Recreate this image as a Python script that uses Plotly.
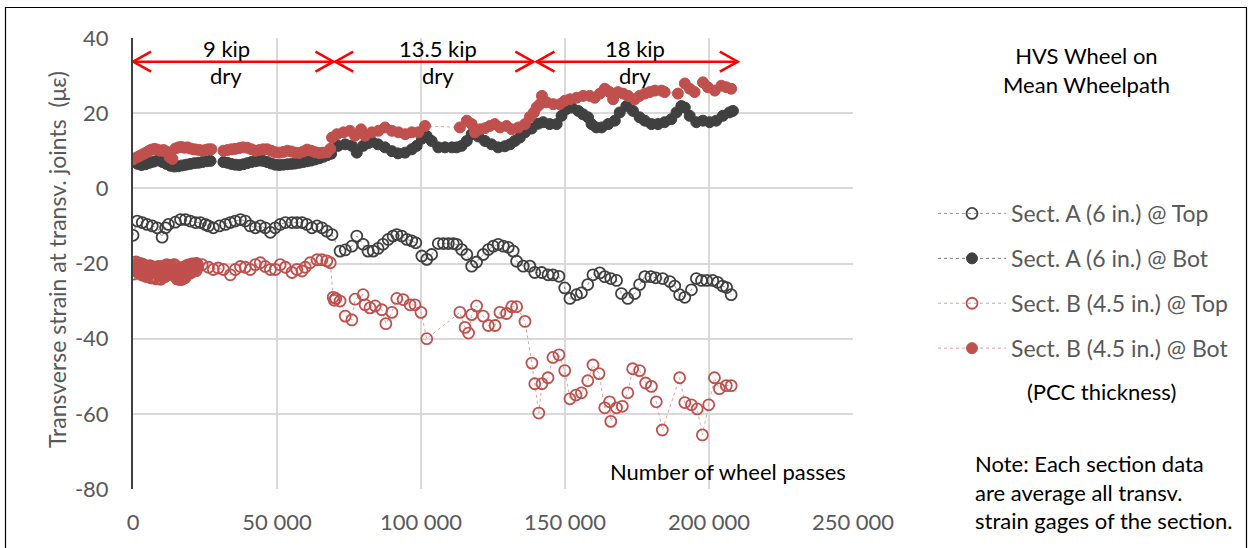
import plotly.graph_objects as go

# ---------------- data (x in thousands of wheel passes) ----------------
a_top_kx = [0, 1.5, 3.2, 4.9, 6.7, 8.4, 10.1, 11.3, 12.3, 14.7, 16.5, 18.2, 19.9, 21.7, 23.4, 25.1, 26.2, 27.9, 30.0,
            32.1, 33.8, 35.5, 37.3, 39.0, 40.7, 42.5, 44.2, 45.9, 47.7, 49.4, 51.1, 52.9, 55.2, 56.9, 58.7, 60.4, 62.1,
            63.9, 65.6, 67.3, 69.1,
            71.9, 73.7, 76.0, 77.7, 79.9, 81.6, 83.4, 85.1, 86.8, 88.6, 90.3, 91.6, 93.3, 95.1, 96.8, 98.2, 100.3,
            102.0, 103.7, 106.0, 107.8, 109.5, 111.2, 112.4, 114.1, 115.9, 117.6, 119.3, 121.6, 123.4, 125.1, 126.8,
            128.6, 130.3, 132.0, 133.2, 135.5, 137.8, 139.5, 141.9,
            144.1, 145.8, 147.9, 149.9, 151.7, 154.0, 155.7, 157.9, 159.7, 162.1, 163.8, 165.9, 167.9, 169.6, 171.8,
            174.2, 175.9, 177.7, 179.8, 181.5, 183.9, 186.4, 188.1, 189.8, 191.6, 193.9, 195.6, 197.4, 199.2, 201.3,
            203.0, 204.7, 206.1, 207.7]
a_top_val = [-12.5, -8.7, -9.1, -9.6, -10.0, -10.5, -13.0, -10.5, -9.6, -9.0, -8.3, -8.3, -8.7, -9.1, -9.1, -9.6, -10.0, -10.5, -10.0,
             -9.6, -9.1, -8.7, -8.3, -8.7, -10.0, -10.5, -10.0, -10.5, -11.7, -10.5, -9.6, -9.1, -9.1, -9.1, -9.1, -9.6, -10.5,
             -10.0, -10.5, -11.4, -12.3,
             -16.7, -16.4, -15.4, -12.7, -14.9, -16.7, -16.7, -16.0, -14.9, -13.6, -12.7, -12.3, -12.7, -13.6, -14.0, -14.5, -18.0,
             -18.9, -17.6, -14.7, -14.7, -14.7, -14.7, -14.9, -16.3, -17.6, -20.7, -19.6, -17.6, -16.3, -15.4, -14.9,
             -15.4, -15.7, -16.7, -19.4, -20.7, -20.7, -22.4, -22.4,
             -23.0, -23.0, -23.4, -26.5, -29.3, -28.3, -27.8, -25.6, -23.0, -22.5, -23.5, -24.0, -24.5, -28.0, -29.3,
             -28.0, -25.6, -23.5, -23.5, -23.8, -24.0, -24.8, -26.0, -28.3, -29.0, -27.0, -24.0, -24.5, -24.5, -24.5,
             -25.0, -26.0, -26.4, -28.3]

a_bot_kx = [0, 1.6, 2.9, 4.3, 5.7, 7.1, 8.5, 10.2, 11.6, 13.0, 14.4, 15.8, 17.2, 18.5, 19.9, 21.3, 22.7, 24.1, 25.5, 26.9,
            31.4, 32.8, 34.1, 35.5, 36.9, 38.3, 39.7, 41.1, 42.5, 43.9, 45.2, 46.6, 48.0, 49.4, 50.8, 52.2, 53.6, 55.0,
            56.3, 57.7, 59.1, 60.5, 61.9, 63.3, 64.7, 66.1, 67.4, 68.8,
            71.2, 73.7, 76.0, 77.7, 79.9, 81.6, 82.9, 85.1, 87.5, 89.9, 92.0, 94.5, 96.8, 98.5, 100.3, 102.0, 103.7,
            106.0, 108.3, 110.7, 112.4, 114.1, 115.9, 117.6, 119.9, 122.2, 124.5, 126.8, 129.1, 130.9, 132.6, 134.3,
            136.1, 138.4, 140.7, 142.4,
            144.7, 147.1, 148.8, 150.5, 152.3, 154.6, 156.3, 158.0, 159.2, 160.9, 162.7, 165.0, 167.3, 169.0, 171.3,
            173.6, 175.9, 177.7, 180.0, 182.3, 184.6, 186.9, 188.7, 190.4, 191.6, 193.3, 195.6, 197.9, 200.2, 202.5,
            204.8, 207.1, 208.3]
a_bot_val = [7.2, 6.5, 6.2, 6.4, 6.8, 7.1, 7.4, 7.0, 6.5, 6.0, 5.8, 5.9, 6.1, 6.3, 6.5, 6.7, 6.8, 7.0, 7.2, 7.3,
             7.0, 6.8, 6.5, 6.3, 6.2, 6.4, 6.7, 7.0, 7.2, 7.4, 7.3, 7.0, 6.6, 6.3, 6.2, 6.3, 6.4, 6.5,
             6.6, 6.8, 7.0, 7.2, 7.4, 7.7, 8.0, 8.4, 8.8, 9.2,
             11.3, 11.7, 11.3, 9.5, 11.3, 12.0, 12.4, 11.7, 10.9, 9.9, 9.3, 9.5, 10.4, 11.3, 13.2, 13.9, 12.6,
             10.9, 10.9, 10.9, 10.9, 11.3, 12.6, 14.4, 13.8, 12.6, 11.7, 10.9, 11.2, 11.7, 12.6, 13.5,
             14.9, 15.9, 17.2, 17.6,
             17.1, 17.1, 19.3, 21.1, 21.5, 20.6, 19.7, 18.9, 17.1, 16.2, 16.2, 17.1, 18.0, 20.2, 21.9,
             20.6, 18.9, 18.0, 17.1, 17.1, 17.6, 18.4, 20.2, 21.9, 21.5, 19.3, 17.6, 18.0, 17.6, 18.0,
             19.3, 20.2, 20.6]

b_top_kx = [0, 0.18, 0.35, 0.53, 0.7, 0.88, 1.05, 1.23, 1.4, 1.58, 1.75, 1.93, 2.1, 2.28, 2.45, 2.63, 2.8, 2.98,
            3.15, 3.33, 3.5, 3.68, 3.85, 4.03, 4.2, 4.38, 4.55, 4.73, 4.9, 5.08, 5.25, 5.43, 5.6, 5.78, 5.95, 6.13,
            6.3, 6.48, 6.65, 6.83, 7.0, 7.18, 7.35, 7.53, 7.7, 7.88, 8.05, 8.23, 8.4, 8.58, 8.75, 8.93, 9.1, 9.28,
            9.45, 9.63, 9.8, 9.98, 10.15, 10.33, 10.5, 10.68, 10.85, 11.03, 11.2, 11.38, 11.55, 11.73, 11.9, 12.08,
            12.25, 12.43, 12.6, 12.78, 12.95, 13.13, 13.3, 13.48, 13.65, 13.83, 14.0,
            14.4, 14.58, 14.75, 14.93, 15.1, 15.28, 15.45, 15.63, 15.8, 15.98, 16.15, 16.33, 16.5, 16.68, 16.85,
            17.03, 17.2, 17.38, 17.55, 17.73, 17.9, 18.08, 18.25, 18.43, 18.6, 18.78, 18.95, 19.13, 19.3, 19.48,
            19.65, 19.83, 20.0, 20.18, 20.35, 20.53, 20.7, 20.88, 21.05, 21.23, 21.4, 21.58, 21.75, 21.93, 22.1,
            22.28, 22.45,
            24.0, 26.2, 27.9, 29.6, 31.4, 33.8, 35.5, 37.3, 39.0, 40.7, 42.5, 44.2, 45.9, 47.7, 49.4, 51.1, 52.9,
            55.2, 56.9, 58.7, 59.8, 61.5, 63.9, 65.6, 67.3, 68.5,
            69.5, 69.9, 70.4, 71.9, 73.7, 76.0, 77.1, 79.9, 80.6, 82.3, 84.1, 86.4, 87.8, 89.9, 91.6, 93.8, 96.2,
            97.9, 100.0, 102.0, 113.5, 115.3, 116.5, 117.6, 119.3, 121.6, 123.4, 125.7, 127.4, 129.7, 131.5, 133.2, 136.1,
            138.5, 139.5, 140.9, 142.0, 144.1, 145.8, 147.9, 149.9, 151.7, 153.8, 155.7, 157.9, 159.7, 161.8, 163.8,
            165.5, 165.9, 167.9, 169.9, 171.8, 173.5, 175.9, 178.0, 180.0, 181.7, 183.8, 189.8, 191.6, 193.9, 195.9,
            197.7, 199.9, 201.9, 203.6, 206.0, 207.7]
b_top_val = [-19.8, -21.4, -22.8, -21.9, -20.3, -21.7, -19.6, -20.6, -21.2, -22.3,
             -20.5, -21.6, -19.9, -20.4, -21.6, -22.8, -20.8, -21.9, -20.1, -23.1,
             -22.0, -20.5, -21.3, -22.7, -20.6, -23.4, -22.4, -20.9, -21.7, -23.5,
             -20.9, -22.1, -22.9, -20.6, -21.8, -23.8, -20.7, -22.4, -23.3, -21.0,
             -22.1, -23.9, -21.2, -22.0, -23.6, -21.1, -22.6, -24.1, -21.5, -23.0,
             -20.8, -21.5, -22.7, -20.9, -23.9, -24.2, -22.9, -23.4, -21.6, -20.8,
             -23.2, -21.7, -22.0, -23.5, -21.1, -22.6, -20.6, -20.3, -21.9, -23.0,
             -22.4, -20.8, -21.3, -22.9, -20.5, -21.9, -21.7, -22.5, -20.9, -21.6, -20.4,
             -20.3, -22.0, -21.4, -20.7, -22.6, -24.1, -23.4, -22.1, -23.9, -22.4,
             -23.6, -24.3, -22.9, -21.8, -23.7, -24.2, -22.6, -23.9, -21.8, -20.9,
             -22.9, -23.8, -21.3, -22.5, -20.6, -22.9, -21.9, -20.4, -22.4, -21.3,
             -21.0, -22.6, -20.4, -22.0, -21.5, -20.1, -20.8, -22.1, -20.2, -21.6,
             -21.3, -20.1, -20.6, -21.9, -20.0, -21.2, -20.4,
             -20.3, -21.0, -21.6, -21.2, -21.6, -23.0, -21.6, -20.8, -21.0, -21.6, -20.3, -19.8, -20.8, -21.6, -21.6, -20.3, -21.0,
             -22.4, -21.6, -22.0, -21.0, -19.8, -19.0, -19.0, -19.3, -19.8,
             -29.0, -29.8, -29.3, -30.0, -34.0, -35.0, -29.5, -28.3, -31.0, -31.8, -31.3, -32.3, -36.0, -33.0, -29.3, -29.6, -31.0,
             -31.0, -33.0, -40.0, -33.0, -37.0, -38.5, -33.6, -31.3, -34.0, -36.5, -36.5, -33.0, -33.3, -31.5, -31.5, -35.4,
             -46.5, -52.0, -59.8, -52.0, -50.4, -45.0, -44.3, -48.5, -56.0, -55.0, -54.4, -51.2, -47.0, -49.3, -58.4,
             -56.8, -62.0, -58.4, -58.0, -54.4, -48.0, -48.5, -51.8, -52.7, -56.8, -64.3, -50.4, -57.0, -57.6, -58.7,
             -65.6, -57.6, -50.4, -53.3, -52.5, -52.5]

b_bot_kx = [0, 1.2, 2.3, 3.3, 4.3, 5.4, 6.4, 7.5, 8.5, 9.5, 10.6, 11.6, 12.7, 13.7, 14.7, 15.8, 16.8, 17.9, 18.9, 19.9,
            21.0, 22.0, 23.1, 24.1, 25.1, 26.2, 27.2,
            31.4, 32.8, 34.2, 35.5, 36.9, 38.3, 39.7, 41.1, 42.5, 43.9, 45.2, 46.6, 48.0, 49.4, 50.8, 52.2, 53.6, 55.0,
            56.3, 57.7, 59.1, 60.5, 61.9, 63.3, 64.7, 66.0, 67.4, 68.5,
            69.1, 70.8, 73.1, 75.3, 77.1, 79.2, 80.6, 82.9, 85.2, 87.5, 89.9, 92.2, 94.5, 96.8, 99.1, 101.4,
            113.5, 115.9, 117.6, 118.7, 120.5, 122.2, 123.9, 125.6, 127.4, 129.7, 131.5, 133.8, 136.1,
            137.8, 139.2, 140.2, 141.3, 142.0, 143.6, 145.9, 148.2, 149.9, 151.7, 154.0, 156.3, 158.6, 160.3, 162.1,
            163.8, 165.5, 166.7, 168.4, 170.2, 171.9, 174.2, 175.9, 177.7, 179.4, 181.2, 183.5, 184.6,
            189.2, 191.6, 193.3, 195.0, 197.9, 199.6, 202.0, 204.3, 206.0, 207.7]
b_bot_val = [7.7, 8.2, 8.6, 9.0, 9.4, 9.9, 10.3, 10.5, 10.3, 10.0, 10.2, 9.8, 8.3, 7.8, 10.6, 10.9, 11.0, 10.8, 10.9, 10.6,
             10.4, 10.3, 10.2, 10.0, 10.2, 10.4, 10.4,
             10.0, 10.2, 10.4, 10.5, 10.7, 10.9, 10.8, 10.4, 10.0, 10.2, 10.4, 10.4, 10.0, 9.6, 9.5, 9.7, 10.0, 9.8,
             9.5, 9.4, 9.8, 10.3, 10.0, 9.6, 9.4, 9.5, 9.6, 10.5,
             13.5, 14.4, 14.9, 15.3, 14.0, 15.7, 14.0, 14.9, 15.3, 16.2, 15.3, 14.9, 14.4, 14.9, 14.9, 16.6,
             16.2, 18.0, 17.1, 14.9, 15.7, 16.0, 16.6, 17.1, 16.2, 16.6, 15.7, 16.2, 17.1,
             19.0, 20.2, 21.6, 22.4, 24.6, 22.9, 22.4, 22.4, 23.3, 23.7, 24.1, 24.6, 24.6, 24.1, 25.2,
             26.5, 25.6, 23.7, 25.6, 25.2, 24.6, 23.7, 24.6, 25.2, 25.6, 26.0, 26.0, 25.6,
             25.2, 27.9, 26.5, 25.6, 28.2, 26.9, 26.0, 27.3, 26.9, 26.5]

series_names = ["Sect. A (6 in.) @ Top", "Sect. A (6 in.) @ Bot",
                "Sect. B (4.5 in.) @ Top", "Sect. B (4.5 in.) @ Bot"]

# loading phases: start, end (thousand passes), label, label position
phase_start = [0, 70.2, 140.1]
phase_end = [69.6, 139.0, 210.0]
phase_load = ["9 kip", "13.5 kip", "18 kip"]
phase_label_x = [32.4, 105.9, 174.2]

x_tick_vals = [0, 50000, 100000, 150000, 200000, 250000]
x_tick_text = ["0", "50 000", "100 000", "150 000", "200 000", "250 000"]
y_tick_vals = [-80, -60, -40, -20, 0, 20, 40]
y_tick_text = ["-80", "-60", "-40", "-20", "0", "20", "40"]

for a, b in [(a_top_kx, a_top_val), (a_bot_kx, a_bot_val), (b_top_kx, b_top_val), (b_bot_kx, b_bot_val)]:
    assert len(a) == len(b), (len(a), len(b))

# ---------------- figure ----------------
FONT = "Lato"
FS = 22
GRAY = "#404040"
RED = "#C0504D"
W, H = 1251, 548
L, R, T, B = 133, 398, 38, 59
PW, PH = W - L - R, H - T - B


def px_x(p):
    return (p - L) / PW


def px_y(p):
    return 1 - (p - T) / PH


fig = go.Figure()
specs = [
    (a_top_kx, a_top_val, GRAY, "circle-open", "#7f7f7f"),
    (a_bot_kx, a_bot_val, GRAY, "circle", "#595959"),
    (b_top_kx, b_top_val, RED, "circle-open", "#d88a88"),
    (b_bot_kx, b_bot_val, RED, "circle", "#d88a88"),
]
for i, (kx, v, col, sym, lcol) in enumerate(specs):
    fig.add_trace(go.Scatter(
        x=[k * 1000 for k in kx], y=v, name=series_names[i], mode="lines+markers",
        legendgroup=f"g{i}",
        line=dict(color=lcol, width=0.8, dash="dot"),
        marker=dict(symbol=sym, size=11, color=col,
                    line=dict(color=col, width=1.8 if sym == "circle-open" else 1)),
    ))

shapes = []
ARROW_Y = 33.7
dx = 6250
dy = 2.66
for s, e in zip(phase_start, phase_end):
    s1, e1 = s * 1000, e * 1000
    shapes.append(dict(type="line", xref="x", yref="y", x0=s1, x1=e1, y0=ARROW_Y, y1=ARROW_Y,
                       line=dict(color="#FF0000", width=2.5)))
    shapes.append(dict(type="path", xref="x", yref="y",
                       path=f"M {s1+dx},{ARROW_Y+dy} L {s1},{ARROW_Y} L {s1+dx},{ARROW_Y-dy}",
                       line=dict(color="#FF0000", width=2.5)))
    shapes.append(dict(type="path", xref="x", yref="y",
                       path=f"M {e1-dx},{ARROW_Y+dy} L {e1},{ARROW_Y} L {e1-dx},{ARROW_Y-dy}",
                       line=dict(color="#FF0000", width=2.5)))

# chart border
shapes.append(dict(type="rect", xref="paper", yref="paper",
                   x0=px_x(5.5), x1=px_x(1246.5), y0=px_y(560), y1=px_y(7.5),
                   line=dict(color="#000000", width=1.2), layer="below"))

annotations = []
for lx, lab in zip(phase_label_x, phase_load):
    annotations.append(dict(x=lx * 1000, y=37.2, xref="x", yref="y", text=lab, showarrow=False,
                            font=dict(family=FONT, size=FS, color="#000000")))
    annotations.append(dict(x=lx * 1000, y=30.1, xref="x", yref="y", text="dry", showarrow=False,
                            font=dict(family=FONT, size=FS, color="#000000")))

annotations += [
    dict(x=px_x(848), y=px_y(471), xref="paper", yref="paper", xanchor="right", yanchor="middle",
         text="Number of wheel passes", showarrow=False, font=dict(family=FONT, size=FS, color="#000000")),
    dict(x=px_x(57), y=px_y(260), xref="paper", yref="paper", textangle=-90, xanchor="center",
         yanchor="middle", text="Transverse strain at transv. joints  (με)", showarrow=False,
         font=dict(family=FONT, size=23, color="#595959")),
    dict(x=px_x(1086), y=px_y(70), xref="paper", yref="paper", xanchor="center", yanchor="middle",
         text="HVS Wheel on<br>Mean Wheelpath", showarrow=False,
         font=dict(family=FONT, size=FS, color="#000000")),
    dict(x=px_x(1101.7), y=px_y(391.7), xref="paper", yref="paper", xanchor="center", yanchor="middle",
         text="(PCC thickness)", showarrow=False, font=dict(family=FONT, size=FS, color="#000000")),
    dict(x=px_x(973), y=px_y(492), xref="paper", yref="paper", xanchor="left", yanchor="middle",
         align="left", text="Note: Each section data<br>are average all transv.<br>strain gages of the section.",
         showarrow=False, font=dict(family=FONT, size=FS, color="#000000")),
]

fig.update_layout(
    width=W, height=H,
    margin=dict(l=L, r=R, t=T, b=B, autoexpand=False),
    paper_bgcolor="white", plot_bgcolor="white",
    font=dict(family=FONT, size=FS, color="#595959"),
    showlegend=True,
    legend=dict(x=px_x(933), y=px_y(192), xanchor="left", yanchor="top",
                font=dict(family=FONT, size=23, color="#595959"),
                itemwidth=68, tracegroupgap=12, bgcolor="rgba(0,0,0,0)"),
    shapes=shapes, annotations=annotations,
    xaxis=dict(range=[0, 250000], tickvals=x_tick_vals, ticktext=x_tick_text,
               showgrid=True, gridcolor="#D9D9D9", gridwidth=1.5, zeroline=False, showline=False,
               ticks="outside", ticklen=14, tickcolor="rgba(0,0,0,0)",
               tickfont=dict(family=FONT, size=FS, color="#595959")),
    yaxis=dict(range=[-80, 40], tickvals=y_tick_vals, ticktext=y_tick_text,
               showgrid=True, gridcolor="#D9D9D9", gridwidth=1.5, zeroline=False,
               showline=True, linecolor="#404040", linewidth=2,
               ticks="outside", ticklen=18, tickcolor="rgba(0,0,0,0)",
               tickfont=dict(family=FONT, size=FS, color="#595959")),
)

fig.write_html("out.html", config={"displayModeBar": False},
               post_script="document.body.style.margin='0';document.body.style.overflow='hidden';")
